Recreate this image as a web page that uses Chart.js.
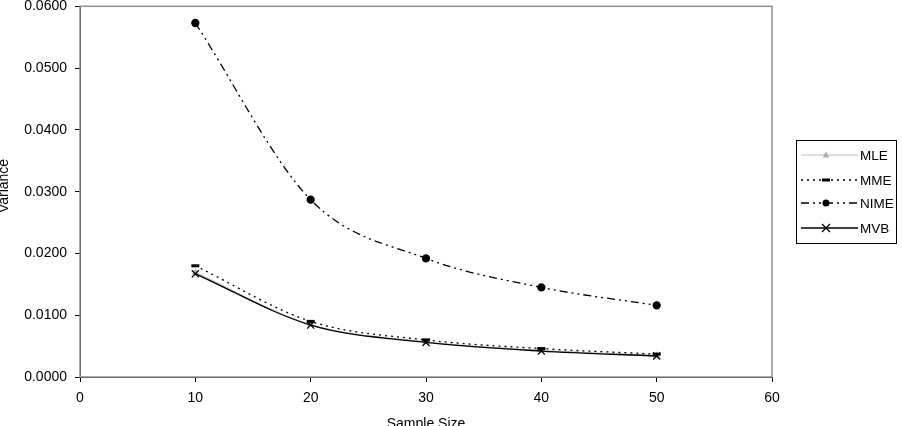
<!DOCTYPE html>
<html><head>
<script src="https://cdn.jsdelivr.net/npm/chart.js"></script>
<style>html,body{margin:0;padding:0;background:#fff}canvas{display:block}</style>
</head><body>
<canvas id="c" width="902" height="426"></canvas>
<script>
const sampleSizes = [10, 20, 30, 40, 50];
const mleValues  = [0.0169, 0.0085, 0.0057, 0.0043, 0.0035];
const mmeValues  = [0.0180, 0.0090, 0.0060, 0.0046, 0.0037];
const nimeValues = [0.0573, 0.0287, 0.0192, 0.0145, 0.0116];
const mvbValues  = [0.0167, 0.0084, 0.0056, 0.0042, 0.0034];
const xTicks = [0, 10, 20, 30, 40, 50, 60];
const yTicks = [0, 0.01, 0.02, 0.03, 0.04, 0.05, 0.06];
const seriesNames = ['MLE', 'MME', 'NIME', 'MVB'];

const pts = v => sampleSizes.map((x, i) => ({x, y: v[i]}));
const FONT = '"Liberation Sans", Arial, sans-serif';

const datasets = [
  {label: seriesNames[0], data: pts(mleValues), borderColor: '#c0c0c0', backgroundColor: '#c0c0c0',
   borderWidth: 1.2, pointStyle: 'triangle', pointRadius: 3, pointBorderColor: '#b0b0b0', pointBackgroundColor: '#b0b0b0', order: 4},
  {label: seriesNames[1], data: pts(mmeValues), borderColor: '#000', backgroundColor: '#000',
   borderWidth: 1.3, borderDash: [2, 4], pointRadius: 0, order: 3},
  {label: seriesNames[2], data: pts(nimeValues), borderColor: '#000', backgroundColor: '#000',
   borderWidth: 1.3, borderDash: [8, 4, 2, 4, 2, 4], pointStyle: 'circle', pointRadius: 3.5,
   pointBorderColor: '#000', pointBackgroundColor: '#000', order: 2},
  {label: seriesNames[3], data: pts(mvbValues), borderColor: '#000', backgroundColor: '#000',
   borderWidth: 1.3, pointStyle: 'crossRot', pointRadius: 5, pointBorderWidth: 1.3,
   pointBorderColor: '#000', order: 1}
];

function drawMarker(ctx, type, x, y) {
  ctx.save();
  ctx.setLineDash([]);
  if (type === 'triangle') {
    ctx.fillStyle = '#b0b0b0';
    ctx.beginPath(); ctx.moveTo(x, y - 3.5); ctx.lineTo(x + 3.5, y + 2.5); ctx.lineTo(x - 3.5, y + 2.5); ctx.closePath(); ctx.fill();
  } else if (type === 'dash') {
    ctx.fillStyle = '#000';
    ctx.fillRect(x - 4, y - 1.5, 8, 3);
  } else if (type === 'circle') {
    ctx.fillStyle = '#000';
    ctx.beginPath(); ctx.arc(x, y, 3.5, 0, Math.PI * 2); ctx.fill();
  } else if (type === 'x') {
    ctx.strokeStyle = '#000'; ctx.lineWidth = 1.3;
    ctx.beginPath(); ctx.moveTo(x - 4, y - 4); ctx.lineTo(x + 4, y + 4); ctx.moveTo(x + 4, y - 4); ctx.lineTo(x - 4, y + 4); ctx.stroke();
  }
  ctx.restore();
}
const markers = ['triangle', 'dash', 'circle', 'x'];

const deco = {
  id: 'deco',
  beforeDatasetsDraw(chart) {
    const {ctx, chartArea: a} = chart;
    ctx.save();
    ctx.strokeStyle = '#909090'; ctx.lineWidth = 1.5;
    ctx.strokeRect(a.left, a.top, a.right - a.left, a.bottom - a.top);
    ctx.restore();
  },
  afterDatasetsDraw(chart) {
    const {ctx} = chart;
    const meta = chart.getDatasetMeta(1);
    meta.data.forEach(p => drawMarker(ctx, 'dash', p.x, p.y));
  },
  afterDraw(chart) {
    const {ctx, chartArea: a} = chart;
    ctx.save();
    ctx.fillStyle = '#000';
    ctx.font = '14px ' + FONT;
    ctx.textAlign = 'center'; ctx.textBaseline = 'middle';
    ctx.fillText('Sample Size', (a.left + a.right) / 2, 424);
    ctx.save();
    ctx.translate(4, 186);
    ctx.rotate(-Math.PI / 2);
    ctx.fillText('Variance', 0, 0);
    ctx.restore();
    // legend
    const bx = 796, by = 140, bw = 100, bh = 103;
    ctx.strokeStyle = '#000'; ctx.lineWidth = 1;
    ctx.strokeRect(bx + 0.5, by + 0.5, bw, bh);
    const rows = [155, 180, 203, 228];
    chart.data.datasets.forEach((ds, i) => {
      const y = rows[i];
      ctx.save();
      ctx.strokeStyle = ds.borderColor; ctx.lineWidth = ds.borderWidth;
      ctx.setLineDash(ds.borderDash || []);
      ctx.beginPath(); ctx.moveTo(801, y); ctx.lineTo(858, y); ctx.stroke();
      ctx.restore();
      drawMarker(ctx, markers[i], 826, y);
      ctx.fillStyle = '#000';
      ctx.font = '13.5px ' + FONT;
      ctx.textAlign = 'left'; ctx.textBaseline = 'middle';
      ctx.fillText(ds.label, 860, y + 1);
    });
    ctx.restore();
  }
};

new Chart(document.getElementById('c'), {
  type: 'line',
  data: {datasets},
  plugins: [deco],
  options: {
    responsive: false,
    animation: false,
    events: [],
    layout: {padding: {top: 5, right: 130, left: 0, bottom: 0}},
    elements: {line: {tension: 0.4, cubicInterpolationMode: 'monotone', fill: false}},
    plugins: {legend: {display: false}, tooltip: {enabled: false}},
    scales: {
      x: {
        type: 'linear', min: 0, max: 60,
        afterBuildTicks: s => { s.ticks = xTicks.map(v => ({value: v})); },
        afterFit: s => { s.height = 49; s.paddingLeft = 0; s.paddingRight = 0; },
        grid: {drawOnChartArea: false, drawTicks: true, tickLength: 5, color: '#000', lineWidth: 1},
        border: {color: '#000', width: 1},
        ticks: {color: '#000', font: {family: FONT, size: 14}, padding: 8, maxRotation: 0}
      },
      y: {
        type: 'linear', min: 0, max: 0.06,
        afterBuildTicks: s => { s.ticks = yTicks.map(v => ({value: v})); },
        afterFit: s => { s.width = 80; s.paddingTop = 0; s.paddingBottom = 0; },
        grid: {drawOnChartArea: false, drawTicks: true, tickLength: 5, color: '#000', lineWidth: 1},
        border: {color: '#000', width: 1},
        ticks: {color: '#000', font: {family: FONT, size: 14}, padding: 8,
          callback: v => Number(v).toFixed(4)}
      }
    }
  }
});
</script>
</body></html>
